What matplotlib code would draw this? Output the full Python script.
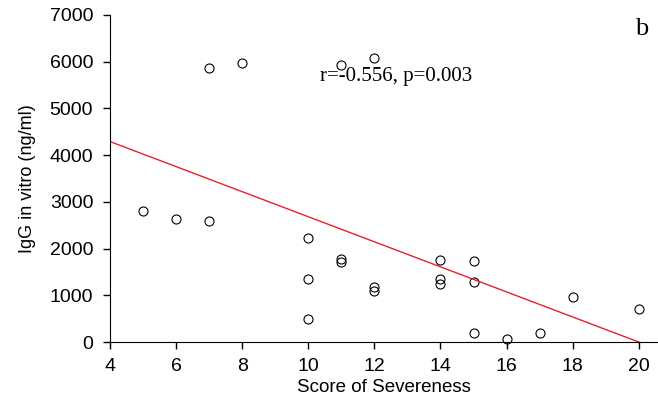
import numpy as np
import matplotlib
matplotlib.use('Agg')
from matplotlib import pyplot as plt

# data
score = [5, 6, 7, 7, 8, 10, 10, 10, 11, 11, 11, 12, 12, 12,
         14, 14, 14, 15, 15, 15, 16, 17, 18, 20]
igg = [2800, 2630, 2580, 5870, 5970, 2220, 1350, 500, 1780, 1710, 5920, 6075, 1170, 1085,
       1755, 1350, 1240, 1730, 1280, 195, 55, 195, 960, 700]

# regression line end points
fit_x = [4, 20]
fit_y = [4290, 0]

fig = plt.figure(figsize=(6.58, 4.01), dpi=100)
ax = fig.add_axes([0.167, 0.147, 0.833, 0.816])

ax.plot(score, igg, 'o', ms=6.5, mfc='none', mec='black', mew=0.8, clip_on=False)
ax.plot(fit_x, fit_y, '-', color='#e8202a', lw=1.0)

ax.set_xlim(4, 20.58)
ax.set_ylim(0, 7000)
ax.set_xticks([4, 6, 8, 10, 12, 14, 16, 18, 20])
ax.set_yticks([0, 1000, 2000, 3000, 4000, 5000, 6000, 7000])
ax.spines['top'].set_visible(False)
ax.spines['right'].set_visible(False)
ax.tick_params(axis='both', direction='out', length=5, width=1, labelsize=14)
ax.tick_params(axis='x', pad=6.5)
ax.tick_params(axis='y', pad=7)
for lab in ax.get_xticklabels() + ax.get_yticklabels():
    lab.set_family(['Liberation Sans', 'DejaVu Sans'])

ax.set_xlabel('Score of Severeness', fontsize=13.5, family=['Liberation Sans', 'DejaVu Sans'], labelpad=3)
ax.set_ylabel('IgG in vitro (ng/ml)', fontsize=13, family=['Liberation Sans Narrow', 'Liberation Sans'], labelpad=10)

ax.text(10.35, 5690, 'r=-0.556, p=0.003', fontsize=15, va='center', ha='left',
        family=['Liberation Serif', 'DejaVu Serif'])
ax.text(20.3, 6700, 'b', fontsize=19, va='center', ha='right',
        family=['Liberation Serif', 'DejaVu Serif'])

fig.savefig('out.png', dpi=100)
plt.close()
